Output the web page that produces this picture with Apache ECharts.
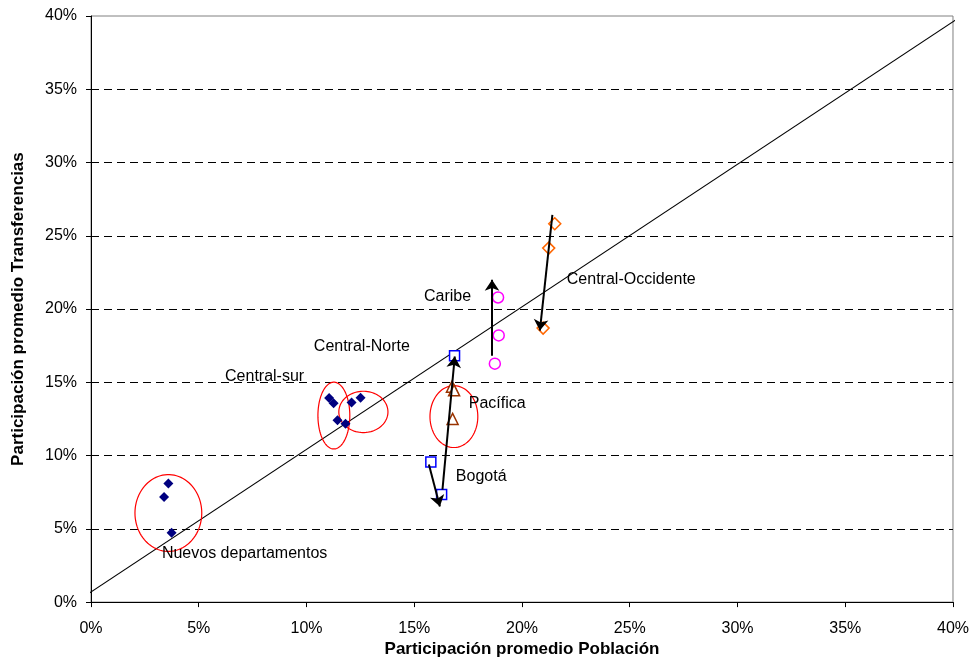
<!DOCTYPE html>
<html>
<head>
<meta charset="utf-8">
<script src="https://cdn.jsdelivr.net/npm/echarts@6/dist/echarts.min.js"></script>
<style>
html,body{margin:0;padding:0;background:#fff;}
#chart{width:972px;height:663px;}
</style>
</head>
<body>
<div id="chart"></div>
<script>
// Values in percent: [Participación promedio Población, Participación promedio Transferencias]
const nuevosCentral = [
  [3.59, 8.09], [3.39, 7.18], [3.74, 4.73],
  [11.05, 13.93], [11.26, 13.57], [12.09, 13.63], [12.51, 13.95], [11.44, 12.41], [11.81, 12.18]
];
const bogota = [[15.77, 9.57], [16.27, 7.34], [16.87, 16.82]];
const pacifica = [[16.75, 14.7], [16.85, 14.45], [16.78, 12.5]];
const caribe = [[18.89, 20.79], [18.92, 18.2], [18.74, 16.27]];
const centralOccidente = [[21.52, 25.82], [21.24, 24.16], [20.98, 18.7]];
const diagonal = [[-0.4, 0.3], [40.15, 39.76]];
const arrows = [
  [[15.68, 9.39], [16.19, 6.52]],
  [[16.31, 7.68], [16.88, 16.76]],
  [[18.61, 16.82], [18.61, 22.0]],
  [[21.41, 26.43], [20.83, 18.53]]
];
// ellipse: [cx, cy, rx, ry]
const ellipses = [
  [3.59, 6.08, 1.55, 2.62],
  [11.27, 12.73, 0.74, 2.28],
  [12.64, 12.98, 1.14, 1.41],
  [16.84, 12.66, 1.11, 2.11]
];
const labels = [
  [3.29, 3.32, 'Nuevos departamentos'],
  [6.22, 15.39, 'Central-sur'],
  [10.34, 17.43, 'Central-Norte'],
  [16.93, 8.57, 'Bogotá'],
  [17.53, 13.54, 'Pacífica'],
  [15.45, 20.84, 'Caribe'],
  [22.08, 22.0, 'Central-Occidente']
];
const xTicks = [0, 5, 10, 15, 20, 25, 30, 35, 40];
const yTicks = [0, 5, 10, 15, 20, 25, 30, 35, 40];

const FONT = 'Liberation Sans, Arial, sans-serif';
const chart = echarts.init(document.getElementById('chart'));

const hollow = (sym, size, col, data) => ({
  type: 'scatter', data: data, symbol: sym, symbolSize: size, z: 5,
  itemStyle: { color: '#fff', borderColor: col, borderWidth: 1.5, opacity: 1 }
});

chart.setOption({
  animation: false,
  backgroundColor: '#fff',
  textStyle: { fontFamily: FONT },
  grid: { left: 91, right: 18.5, top: 16, bottom: 60.3, show: true, borderColor: '#808080', borderWidth: 1, backgroundColor: '#fff' },
  xAxis: {
    type: 'value', min: xTicks[0], max: xTicks[xTicks.length - 1], interval: 5,
    name: 'Participación promedio Población', nameLocation: 'middle', nameGap: 36,
    nameTextStyle: { fontFamily: FONT, fontWeight: 'bold', fontSize: 17, color: '#000' },
    axisLine: { lineStyle: { color: '#000', width: 1 } },
    axisTick: { show: true, length: 5, lineStyle: { color: '#000' } },
    axisLabel: { formatter: '{value}%', fontSize: 16, color: '#000', fontFamily: FONT, margin: 18 },
    splitLine: { show: false }
  },
  yAxis: {
    type: 'value', min: yTicks[0], max: yTicks[yTicks.length - 1], interval: 5,
    name: 'Participación promedio Transferencias', nameLocation: 'middle', nameGap: 64, nameRotate: 90,
    nameTextStyle: { fontFamily: FONT, fontWeight: 'bold', fontSize: 17, color: '#000' },
    axisLine: { show: true, lineStyle: { color: '#000', width: 1 } },
    axisTick: { show: true, length: 5, lineStyle: { color: '#000' } },
    axisLabel: { formatter: '{value}%', fontSize: 16, color: '#000', fontFamily: FONT, margin: 14 },
    splitLine: { show: true, showMinLine: false, showMaxLine: false, lineStyle: { color: '#000', type: [8, 5], width: 1 } }
  },
  series: [
    {
      type: 'line', data: diagonal, symbol: 'none', clip: false, silent: true, z: 2,
      lineStyle: { color: '#000', width: 1.1 }
    },
    {
      type: 'custom', z: 3, silent: true, clip: false,
      data: ellipses,
      renderItem: function (params, api) {
        const c = api.coord([api.value(0), api.value(1)]);
        const s = api.size([api.value(2), api.value(3)]);
        const pts = [];
        for (let i = 0; i < 90; i++) {
          const t = i / 90 * Math.PI * 2;
          pts.push([c[0] + s[0] * Math.cos(t), c[1] + s[1] * Math.sin(t)]);
        }
        return { type: 'polygon', shape: { points: pts }, style: { fill: 'none', stroke: '#FF0000', lineWidth: 1.2 } };
      }
    },
    {
      type: 'scatter', data: nuevosCentral, symbol: 'diamond', symbolSize: 10, z: 5,
      itemStyle: { color: '#000080', opacity: 1 }
    },
    hollow('rect', 10, '#0000FF', bogota),
    hollow('triangle', 11, '#993300', pacifica),
    hollow('circle', 11, '#FF00FF', caribe),
    hollow('diamond', 12, '#FF6600', centralOccidente),
    {
      type: 'lines', coordinateSystem: 'cartesian2d', z: 6, silent: true,
      symbol: ['none', 'arrow'], symbolSize: 11,
      lineStyle: { color: '#000', width: 2, opacity: 1 },
      data: arrows.map(a => ({ coords: a }))
    },
    {
      type: 'scatter', symbolSize: 0, z: 7, silent: true,
      itemStyle: { opacity: 1 },
      data: labels.map(l => ({ value: [l[0], l[1]], name: l[2] })),
      label: {
        show: true, position: 'right', distance: 0, formatter: p => p.name,
        fontFamily: FONT, fontSize: 16, color: '#000', opacity: 1
      }
    }
  ]
});
</script>
</body>
</html>
